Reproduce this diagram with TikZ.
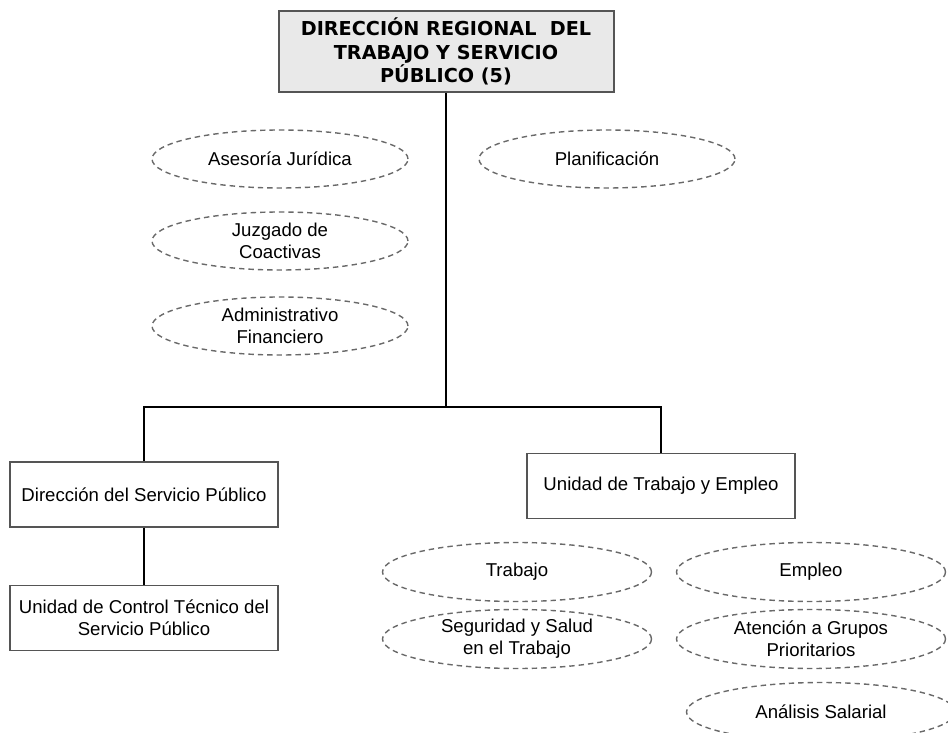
\documentclass[tikz,border=0pt]{standalone}
\usepackage{fontspec}
\setmainfont{Liberation Sans}
\newfontfamily\headfont{DejaVu Sans}
\usepackage{tikz}
\usetikzlibrary{shapes.geometric}
\definecolor{headgrey}{RGB}{233,233,233}
\definecolor{rimgrey}{RGB}{85,85,85}
\definecolor{dashgrey}{RGB}{105,105,105}

\begin{document}
\begin{tikzpicture}[x=0.5pt, y=-0.5pt, node distance=41pt, font=\fontsize{9.3}{11}\selectfont]
\tikzstyle{head} = [draw=rimgrey, line width=1pt, fill=headgrey, rectangle, minimum width=167.5pt, minimum height=39.5pt, align=center, font=\headfont\bfseries\fontsize{9.6}{11.8}\selectfont]
\tikzstyle{block} = [draw=rimgrey, line width=0.9pt, fill=white, rectangle, minimum width=134pt, minimum height=32.5pt, align=center, inner sep=1pt]
\tikzstyle{unit} = [draw=dashgrey, line width=0.7pt, dash pattern=on 2.7pt off 2pt, ellipse, minimum width=128pt, minimum height=29pt, inner sep=0pt, align=center]
\tikzstyle{task} = [unit, minimum width=134.5pt, minimum height=29.5pt]
\tikzstyle{junction} = [coordinate]
\tikzstyle{link} = [line width=0.7pt]

\useasboundingbox (0,0) rectangle (948,733);

    % head of the chart and its advisory units
    \node [head] (dir) at (446,51.5) {DIRECCIÓN REGIONAL~~DEL\\TRABAJO Y SERVICIO\\PÚBLICO (5)};
    \node [unit] (aseso) at (280,159) {Asesoría Jurídica};
    \node [unit, below of=aseso] (juzg) {Juzgado de\\Coactivas};
    \node [unit, below of=juzg, node distance=42.5pt] (admin) {Administrativo\\Financiero};
    \node [unit] (plan) at (607,159) {Planificación};

    % the two branches
    \node [junction] (bus) at (446,407) {};
    \node [block] (dsp) at (144,494.5) {Dirección del Servicio Público};
    \node [block, below of=dsp, node distance=61.75pt] (uct) {Unidad de Control Técnico del\\Servicio Público};
    \node [block] (ute) at (661,486) {Unidad de Trabajo y Empleo};

    \node [task] (trab) at (517,572) {Trabajo};
    \node [task, below of=trab, node distance=33.5pt] (segur) {Seguridad y Salud\\en el Trabajo};
    \node [task] (empl) at (811,572) {Empleo};
    \node [task, below of=empl, node distance=33.5pt] (atenc) {Atención a Grupos\\Prioritarios};
    \node [task] (anal) at (821,712) {Análisis Salarial};

    % connecting lines
    \draw [link] (dir) -- (bus);
    \draw [link] (bus) -| (dsp);
    \draw [link] (bus) -| (ute);
    \draw [link] (dsp) -- (uct);

\end{tikzpicture}
\end{document}
